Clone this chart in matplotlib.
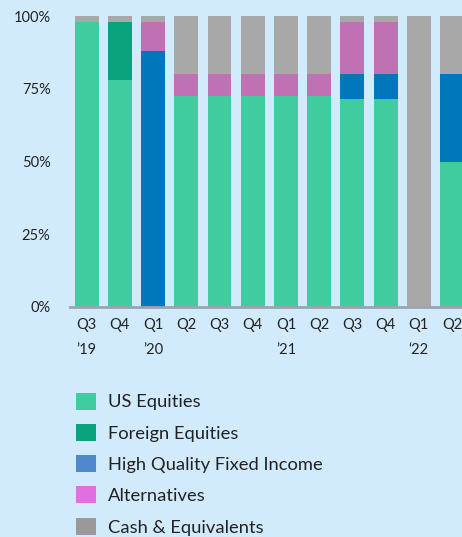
import matplotlib
matplotlib.use("Agg")
from matplotlib import pyplot as plt
from matplotlib.patches import Patch
import numpy as np

plt.rcParams["font.family"] = ["Lato", "DejaVu Sans"]

quarters = ["Q3", "Q4", "Q1", "Q2", "Q3", "Q4", "Q1", "Q2", "Q3", "Q4", "Q1", "Q2"]
years = ["\u201919", "", "\u201920", "", "", "", "\u201921", "", "", "", "\u201822", ""]

us_equities = [98, 78, 0, 72.5, 72.5, 72.5, 72.5, 72.5, 71.5, 71.5, 0, 50]
foreign_equities = [0, 20, 0, 0, 0, 0, 0, 0, 0, 0, 0, 0]
hq_fixed_income = [0, 0, 88, 0, 0, 0, 0, 0, 8.5, 8.5, 0, 30]
alternatives = [0, 0, 10, 7.5, 7.5, 7.5, 7.5, 7.5, 18, 18, 0, 0]
cash = [2, 2, 2, 20, 20, 20, 20, 20, 2, 2, 100, 20]

labels = ["US Equities", "Foreign Equities", "High Quality Fixed Income",
          "Alternatives", "Cash & Equivalents"]
bar_colors = ["#40CC9F", "#0BA37D", "#0077BB", "#BF71B4", "#A8A8A8"]
legend_colors = ["#40CC9F", "#0BA37D", "#4F88CC", "#E26FE0", "#999999"]

bg = "#D1EBFD"
fig = plt.figure(figsize=(4.62, 5.37), dpi=100, facecolor=bg)
ax = fig.add_axes([70 / 462, 1 - 307 / 537, 1 - 70 / 462, 291 / 537])
ax.set_facecolor(bg)

x = np.arange(len(quarters))
bottom = np.zeros(len(quarters))
for vals, c in zip([us_equities, foreign_equities, hq_fixed_income, alternatives, cash], bar_colors):
    ax.bar(x, vals, bottom=bottom, width=0.72, color=c, linewidth=0)
    bottom += np.array(vals)

ax.set_xlim(-0.5, 11.3)
ax.set_ylim(0, 100)
ax.set_yticks([0, 25, 50, 75, 100])
ax.set_yticklabels(["0%", "25%", "50%", "75%", "100%"])
ax.set_xticks(x)
ax.set_xticklabels([f"{q}\n{y}" if y else f"{q}\n " for q, y in zip(quarters, years)],
                   linespacing=2.0)
ax.tick_params(axis="both", length=0, labelsize=10.5, colors="#222222")
ax.tick_params(axis="y", pad=14)
ax.tick_params(axis="x", pad=8)
for s in ["top", "right", "left"]:
    ax.spines[s].set_visible(False)
ax.spines["bottom"].set_color("#9AA5B1")
ax.spines["bottom"].set_linewidth(2)

handles = [Patch(facecolor=c, edgecolor="none") for c in legend_colors]
fig.legend(handles, labels, loc="upper left", bbox_to_anchor=(60 / 462, 1 - 376 / 537),
           frameon=False, fontsize=13.2, handlelength=1.05, handleheight=1.05,
           handletextpad=0.65, labelspacing=0.74, labelcolor="#222222")

fig.savefig("out.png", dpi=100, facecolor=bg)
